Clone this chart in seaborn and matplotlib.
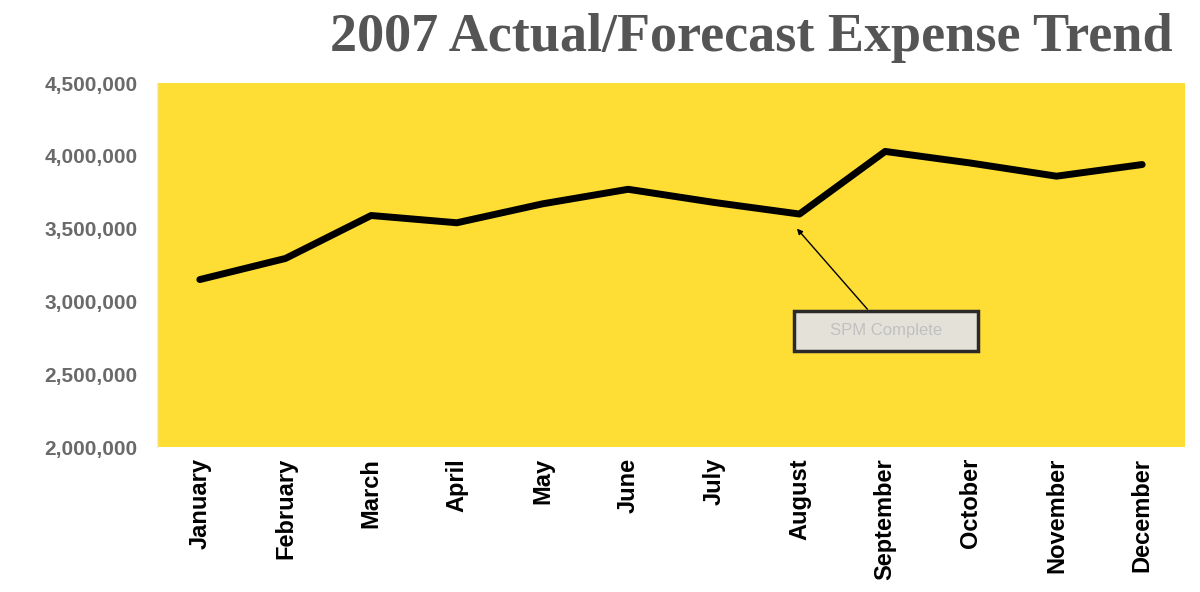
import matplotlib
matplotlib.use("Agg")
import matplotlib.pyplot as plt
import seaborn as sns
import pandas as pd

months = ["January", "February", "March", "April", "May", "June", "July",
          "August", "September", "October", "November", "December"]
expense = [3150000, 3295000, 3590000, 3540000, 3670000, 3770000, 3680000,
           3600000, 4030000, 3950000, 3860000, 3940000]
ytick_values = [2000000, 2500000, 3000000, 3500000, 4000000, 4500000]
title = "2007 Actual/Forecast Expense Trend"
note = "SPM Complete"

df = pd.DataFrame({"month": months, "expense": expense})

sns.set_theme(style="white")
plt.rcParams['font.family'] = ['Liberation Sans', 'DejaVu Sans']

fig = plt.figure(figsize=(12, 5.92), dpi=100)
ax = fig.add_axes([157/1200, 1 - 447/592, (1185-157)/1200, (447-83)/592])
ax.set_facecolor("#FEDD35")

sns.lineplot(data=df, x="month", y="expense", ax=ax, color="black",
             linewidth=5, sort=False)

ax.set_xlim(-0.5, 11.5)
ax.set_ylim(2000000, 4500000)
ax.set_yticks(ytick_values)
ax.set_yticklabels([f"{v:,}" for v in ytick_values], fontsize=15,
                   fontweight="bold", color="#6a6a6a")
ax.set_xticks(range(len(months)))
ax.set_xticklabels(months, rotation=90, fontsize=17, fontweight="bold",
                   color="black")
ax.tick_params(axis="y", pad=14, length=0)
ax.tick_params(axis="x", pad=8, length=0)
ax.set_xlabel("")
ax.set_ylabel("")
for s in ["top", "right", "bottom"]:
    ax.spines[s].set_visible(False)
ax.spines["left"].set_color("#eeeeee")
ax.spines["left"].set_linewidth(1)

ax.annotate("     " + note + "     ", xy=(6.97, 3500000), xytext=(8.01, 2800000),
            fontsize=12, color="#c0c0c0", ha="center", va="center",
            bbox=dict(boxstyle="square,pad=0.75", fc="#e4e2d8", ec="#2a2a2a",
                      lw=2.5),
            arrowprops=dict(arrowstyle="-|>", color="black", lw=1,
                            shrinkA=0, shrinkB=0, mutation_scale=8))

fig.patches.append(plt.Rectangle((300/1200, 1 - 80/592), 900/1200, 80/592,
                                 transform=fig.transFigure, fc="white",
                                 ec="none", zorder=0))
fig.text(1173/1200, 1 - 38/592, title, ha="right", va="center",
         fontsize=39, fontweight="bold", color="#555555",
         family=["Liberation Serif", "DejaVu Serif"])

fig.savefig("out.png", dpi=100)
